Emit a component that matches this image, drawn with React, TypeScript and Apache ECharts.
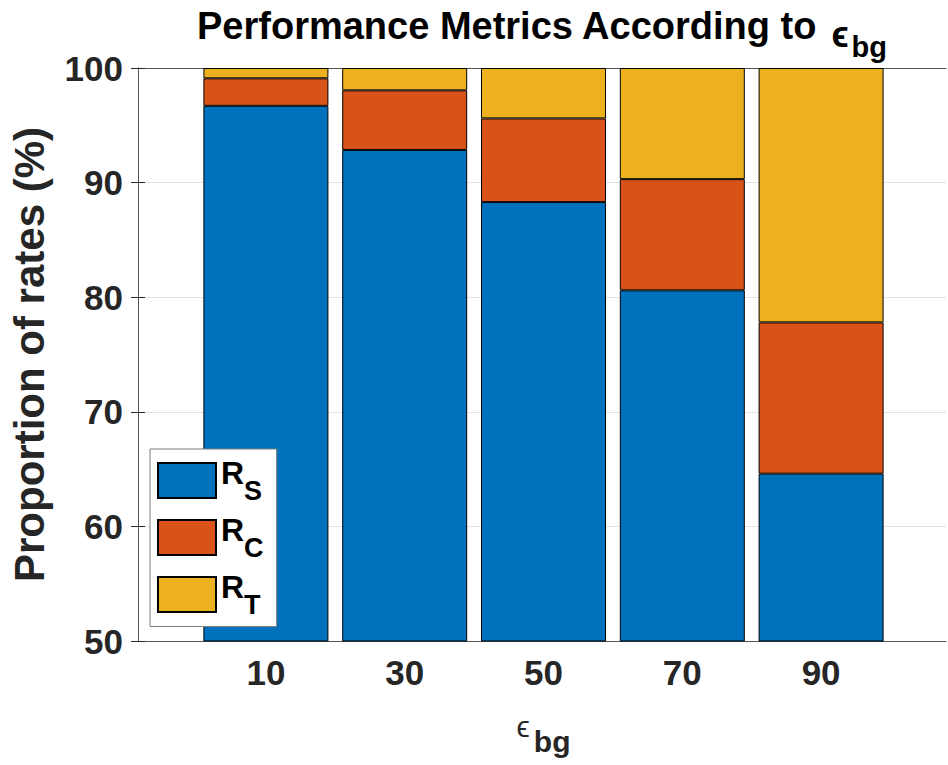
import React, { useEffect, useRef } from 'react';
import * as echarts from 'echarts';

const categories = ['10', '30', '50', '70', '90'];
const seriesNames = ['RS', 'RC', 'RT'];
const rS = [96.7, 92.85, 88.3, 80.6, 64.6];
const rC = [2.4, 5.2, 7.3, 9.7, 13.2];
const rT = [0.9, 1.95, 4.4, 9.7, 22.2];
const yMin = 50;
const yMax = 100;
const yInterval = 10;

const FONT = "'Liberation Sans', Arial, Helvetica, sans-serif";
const colors = ['#0072BD', '#D95319', '#EDB120'];
const subs: Record<string, string> = { RS: 'S', RC: 'C', RT: 'T' };

export default function App() {
  const ref = useRef<HTMLDivElement>(null);
  useEffect(() => {
    if (!ref.current) return;
    const chart = echarts.init(ref.current, undefined, { renderer: 'svg' });
    const frameColor = '#555555';
    const gridBox = { left: 135, top: 68, width: 811, height: 573 };
    const innerBox = { left: 196.5, top: 68, width: 694, height: 573 };
    const mk = (name: string, data: number[], i: number) => ({
      name,
      type: 'bar',
      stack: 'total',
      data,
      xAxisIndex: 2,
      yAxisIndex: 2,
      barWidth: 125,
      clip: true,
      itemStyle: { color: colors[i], borderColor: '#000', borderWidth: 1 },
      emphasis: { disabled: true },
    });
    chart.setOption({
      animation: false,
      backgroundColor: '#fff',
      textStyle: { fontFamily: FONT },
      title: {
        text: '{t|Performance Metrics According to }{e|ϵ}{s|bg}',
        left: 197,
        top: 0,
        padding: 0,
        textStyle: {
          rich: {
            t: { fontSize: 38, fontWeight: 'bold', color: '#000', padding: [6.5, 0, 0, 0], verticalAlign: 'top', fontFamily: FONT },
            e: { fontSize: 36, color: '#000', padding: [16.5, 3, 0, 3], verticalAlign: 'top', fontFamily: FONT },
            s: { fontSize: 29, fontWeight: 'bold', color: '#000', padding: [32.5, 0, 0, 0], verticalAlign: 'top', fontFamily: FONT },
          },
        },
      },
      legend: {
        left: 150,
        top: 449,
        orient: 'vertical',
        padding: [7.5, 13, 8, 7],
        itemGap: 9,
        itemWidth: 58,
        itemHeight: 35,
        icon: 'rect',
        backgroundColor: '#fff',
        borderColor: '#7f7f7f',
        borderWidth: 1,
        borderRadius: 0,
        selectedMode: false,
        data: seriesNames,
        formatter: (n: string) => `{r|R}{s|${subs[n]}}`,
        textStyle: {
          rich: {
            r: { fontSize: 32, fontWeight: 'bold', color: '#000', lineHeight: 48, verticalAlign: 'top', fontFamily: FONT },
            s: { fontSize: 27, fontWeight: 'bold', color: '#000', lineHeight: 48, verticalAlign: 'bottom', fontFamily: FONT },
          },
        },
      },
      grid: [
        { ...gridBox, containLabel: false },
        { ...innerBox, containLabel: false },
      ],
      xAxis: [
        {
          gridIndex: 0, type: 'value', min: 0, max: 1, position: 'bottom',
          axisLine: { show: true, lineStyle: { color: frameColor, width: 1 } },
          axisTick: { show: false }, axisLabel: { show: false }, splitLine: { show: false },
        },
        {
          gridIndex: 0, type: 'value', min: 0, max: 1, position: 'top',
          axisLine: { show: true, lineStyle: { color: frameColor, width: 1 } },
          axisTick: { show: false }, axisLabel: { show: false }, splitLine: { show: false },
        },
        {
          gridIndex: 1, type: 'category', data: categories, position: 'bottom',
          axisLine: { show: false },
          axisTick: { show: true, inside: true, alignWithLabel: true, length: 8, lineStyle: { color: '#262626' } },
          axisLabel: { fontSize: 35, fontWeight: 'bold', color: '#262626', margin: 14, fontFamily: FONT },
          name: '{e|ϵ}{s|bg}',
          nameLocation: 'middle',
          nameGap: 59,
          nameTextStyle: {
            rich: {
              e: { fontSize: 30, color: '#262626', padding: [11.5, 4, 0, 0], verticalAlign: 'top', fontFamily: FONT },
              s: { fontSize: 30, fontWeight: 'bold', color: '#262626', padding: [26.5, 0, 0, 0], verticalAlign: 'top', fontFamily: FONT },
            },
          },
        },
        {
          gridIndex: 1, type: 'category', data: categories, position: 'top',
          axisLine: { show: false },
          axisTick: { show: true, inside: true, alignWithLabel: true, length: 8, lineStyle: { color: '#262626' } },
          axisLabel: { show: false },
        },
      ],
      yAxis: [
        {
          gridIndex: 0, type: 'value', min: yMin, max: yMax, interval: yInterval, position: 'left',
          axisLine: { show: true, lineStyle: { color: frameColor, width: 1 } },
          axisTick: { show: true, inside: true, length: 7, lineStyle: { color: '#262626' } },
          axisLabel: { fontSize: 35, fontWeight: 'bold', color: '#262626', margin: 15, fontFamily: FONT },
          splitLine: { show: true, lineStyle: { color: '#e3e3e3', width: 1 } },
          name: 'Proportion of rates (%)',
          nameLocation: 'middle',
          nameGap: 88,
          nameTextStyle: { fontSize: 42, fontWeight: 'bold', color: '#262626', fontFamily: FONT },
        },
        {
          gridIndex: 0, type: 'value', min: yMin, max: yMax, interval: yInterval, position: 'right',
          axisLine: { show: true, lineStyle: { color: frameColor, width: 1 } },
          axisTick: { show: true, inside: true, length: 7, lineStyle: { color: '#262626' } },
          axisLabel: { show: false },
          splitLine: { show: false },
        },
        {
          gridIndex: 1, type: 'value', min: yMin, max: yMax, interval: yInterval,
          show: false,
          splitLine: { show: false },
        },
      ],
      series: [mk('RS', rS, 0), mk('RC', rC, 1), mk('RT', rT, 2)],
    });
    return () => chart.dispose();
  }, []);
  return (
    <div
      ref={ref}
      style={{ position: 'fixed', left: 0, top: 0, width: 948, height: 765, background: '#fff' }}
    />
  );
}
